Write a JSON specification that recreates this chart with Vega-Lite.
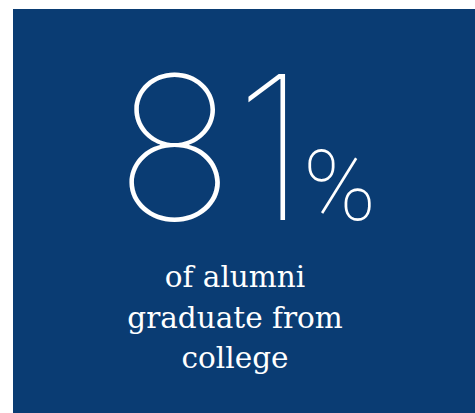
{
  "$schema": "https://vega.github.io/schema/vega-lite/v6.json",
  "autosize": "none",
  "width": 462,
  "height": 404,
  "padding": {"left": 13, "top": 9, "right": 0, "bottom": 0},
  "background": "white",
  "view": {"fill": "#0a3c73", "stroke": null},
  "data": {"values": [
    {"id": "number", "label": "81"},
    {"id": "unit", "label": "%"},
    {"id": "caption", "label": "of alumni\ngraduate from\ncollege"}
  ]},
  "layer": [
    {
      "transform": [{"filter": "datum.id === 'number'"}],
      "mark": {"type": "text", "font": "Inter", "fontWeight": 100, "fontSize": 200, "align": "left", "baseline": "alphabetic", "color": "white", "x": 102, "y": 211},
      "encoding": {"text": {"field": "label"}}
    },
    {
      "transform": [{"filter": "datum.id === 'unit'"}],
      "mark": {"type": "text", "font": "Roboto", "fontWeight": 100, "fontSize": 98, "align": "left", "baseline": "alphabetic", "color": "white", "x": 290, "y": 211},
      "encoding": {"text": {"field": "label"}}
    },
    {
      "transform": [{"filter": "datum.id === 'caption'"}],
      "mark": {"type": "text", "font": "DejaVu Serif", "fontSize": 29.5, "lineBreak": "\n", "lineHeight": 40.5, "align": "center", "baseline": "alphabetic", "color": "white", "x": 222, "y": 278},
      "encoding": {"text": {"field": "label"}}
    }
  ]
}
